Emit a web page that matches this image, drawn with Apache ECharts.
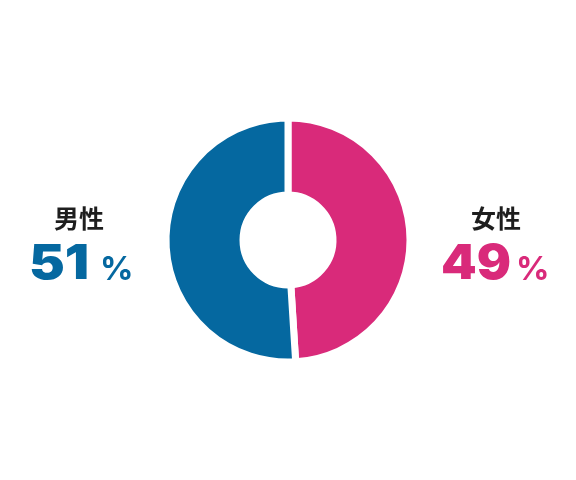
<!DOCTYPE html>
<html><head><meta charset="utf-8">
<script src="https://cdn.jsdelivr.net/npm/echarts@6/dist/echarts.min.js"></script>
<style>html,body{margin:0;padding:0;background:#fff}#c{width:576px;height:480px}</style>
</head><body><div id="c"></div>
<script>
const categories = ['女性', '男性'];
const values = [49, 51];
const colors = ['#d92a7a', '#0568a0'];

const chart = echarts.init(document.getElementById('c'), null, {renderer: 'canvas'});
const numFont = '"Inter", "Roboto", sans-serif';
const cjkFont = '"Noto Sans CJK JP", sans-serif';

// cx: centre of the title; numRight: right edge of the number; pctLeft: left edge of "%"
function labelTexts(i, cx, numRight, pctLeft, sx) {
  return [
    { type: 'text', x: cx, y: 218, style: { text: categories[i], fill: '#1e1e1e', font: 'bold 25px ' + cjkFont, align: 'center', verticalAlign: 'middle' } },
    { type: 'text', x: numRight, y: 265, scaleX: sx, style: { text: String(values[i]), fill: colors[i], font: '900 48px ' + numFont, align: 'right', verticalAlign: 'middle' } },
    { type: 'text', x: pctLeft, y: 270, style: { text: '%', fill: colors[i], font: '700 33px ' + numFont, align: 'left', verticalAlign: 'middle' } }
  ];
}

chart.setOption({
  animation: false,
  series: [{
    type: 'pie',
    center: [288, 240],
    radius: [45, 122],
    startAngle: 90,
    clockwise: true,
    label: { show: false },
    labelLine: { show: false },
    emphasis: { disabled: true },
    itemStyle: { borderColor: '#fff', borderWidth: 7 },
    data: categories.map((c, i) => ({ name: c, value: values[i], itemStyle: { color: colors[i] } }))
  }],
  graphic: [
    { type: 'group', children: labelTexts(1, 79, 89, 100, 1.12).concat(labelTexts(0, 496, 511, 516, 1.06)) }
  ]
});
</script></body></html>
